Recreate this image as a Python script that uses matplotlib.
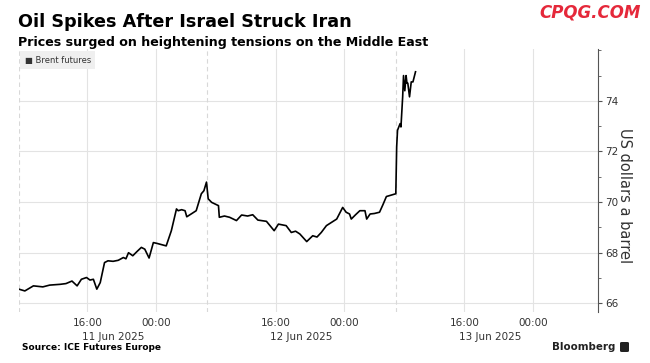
import matplotlib
matplotlib.use("Agg")
import matplotlib.pyplot as plt
from matplotlib.patches import FancyBboxPatch
from matplotlib.ticker import MultipleLocator
from matplotlib.transforms import blended_transform_factory

# x axis = trading hours since 08:00 11 Jun (session gaps 06:00-08:00 removed)
hours = [0.0, 0.7, 1.7, 2.8, 3.6, 4.8, 5.5, 6.2, 6.8, 7.3, 7.9, 8.3, 8.7, 9.1,
         9.5, 10.0, 10.4, 11.0, 11.6, 12.2, 12.5, 12.8, 13.3, 13.8, 14.3, 14.7,
         15.2, 15.7, 16.1, 17.2, 17.8, 18.4, 18.6, 19.0, 19.4, 19.6, 20.2, 20.7,
         21.3, 21.6, 21.9, 22.1, 22.5, 23.3, 23.4, 24.0, 24.6, 25.4, 26.0, 26.7,
         27.3, 27.9, 28.9, 29.8, 30.3, 31.2, 31.8, 32.3, 32.8, 33.6, 34.3, 34.8,
         35.3, 35.9, 36.5, 37.1, 37.8, 38.2, 38.6, 38.8, 39.3, 39.8, 40.4, 40.6,
         41.0, 41.5, 42.1, 42.5, 42.9, 43.3, 44.0, 44.1, 44.2, 44.5, 44.6, 44.8,
         44.9, 45.05, 45.2, 45.3, 45.4, 45.6, 45.8, 46.0, 46.3]
brent = [66.56, 66.49, 66.69, 66.65, 66.72, 66.75, 66.78, 66.88, 66.69, 66.95,
         67.02, 66.92, 66.95, 66.56, 66.82, 67.61, 67.68, 67.66, 67.70, 67.81,
         67.76, 68.00, 67.88, 68.05, 68.21, 68.14, 67.79, 68.40, 68.37, 68.27,
         68.87, 69.73, 69.66, 69.70, 69.66, 69.42, 69.55, 69.66, 70.33, 70.45,
         70.79, 70.13, 69.99, 69.86, 69.40, 69.45, 69.40, 69.27, 69.49, 69.45,
         69.50, 69.29, 69.24, 68.87, 69.13, 69.07, 68.80, 68.85, 68.74, 68.44,
         68.67, 68.62, 68.80, 69.07, 69.20, 69.33, 69.79, 69.60, 69.53, 69.33,
         69.50, 69.66, 69.66, 69.33, 69.53, 69.55, 69.60, 69.90, 70.22, 70.26,
         70.33, 72.18, 72.84, 73.10, 72.97, 74.16, 75.00, 74.40, 75.00, 74.70,
         74.70, 74.16, 74.75, 74.75, 75.15]

tick_hours = [8, 16, 30, 38, 52, 60]
tick_labels = ["16:00", "00:00", "16:00", "00:00", "16:00", "00:00"]
date_hours = [8, 30, 52]
date_labels = ["11 Jun 2025", "12 Jun 2025", "13 Jun 2025"]
session_starts = [0, 22, 44]
y_ticks = [66, 68, 70, 72, 74]

plt.rcParams["font.family"] = ["DejaVu Sans"]

fig = plt.figure(figsize=(6.5, 3.63), dpi=100)
ax = fig.add_axes([0.029, 0.140, 0.891, 0.725])

grid_c = "#e3e3e3"
for y in y_ticks:
    ax.axhline(y, color=grid_c, lw=0.8, zorder=0)
for x in tick_hours:
    ax.axvline(x, color=grid_c, lw=0.8, zorder=0)
for x in session_starts:
    ax.axvline(x, color="#d8d8d8", lw=0.8, ls=(0, (4, 3)), zorder=0)

ax.plot(hours, brent, color="black", lw=1.2, zorder=3)

ax.set_xlim(0, 67.6)
ax.set_ylim(65.65, 76.05)

ax.set_xticks(tick_hours)
ax.set_xticklabels(tick_labels, fontsize=7.5, color="#333333")
ax.tick_params(axis="x", length=0, pad=4)

# date line under the 16:00 labels, starting a bit left of the tick
trans = blended_transform_factory(ax.transData, ax.transAxes)
for x, lab in zip(date_hours, date_labels):
    ax.text(x - 0.65, -0.075, lab, transform=trans, fontsize=7.5,
            color="#333333", ha="left", va="top")

ax.yaxis.tick_right()
ax.set_yticks(y_ticks)
ax.yaxis.set_minor_locator(MultipleLocator(1))
ax.tick_params(axis="y", which="major", length=3, width=0.8, color="#555555",
               labelsize=7.5, labelcolor="#333333", pad=2)
ax.tick_params(axis="y", which="minor", length=2, width=0.6, color="#555555")

for s in ["top", "left", "bottom"]:
    ax.spines[s].set_visible(False)
ax.spines["right"].set_color("#555555")
ax.spines["right"].set_linewidth(0.8)

ax.text(0.01, 0.975, "\u25a0 Brent futures", transform=ax.transAxes,
        fontsize=6, color="#333333", va="top", ha="left", zorder=5,
        bbox=dict(facecolor="#efefef", edgecolor="none", boxstyle="square,pad=0.55"))

fig.text(625 / 650, 1 - 196 / 363, "US dollars a barrel", rotation=270,
         fontsize=10.5, color="#333333", ha="center", va="center")

fig.text(18 / 650, 1 - 27 / 363, "Oil Spikes After Israel Struck Iran",
         fontsize=12.7, fontweight="bold", color="black", va="baseline")
fig.text(18 / 650, 1 - 46 / 363,
         "Prices surged on heightening tensions on the Middle East",
         fontsize=9.1, fontweight="bold", color="black", va="baseline")
fig.text(641 / 650, 1 - 13 / 363, "CPQG.COM", fontsize=12, color="#e5283a",
         fontstyle="italic", fontweight="bold", ha="right", va="center")

fig.text(22 / 650, 1 - 350 / 363, "Source: ICE Futures Europe", fontsize=6.5,
         fontweight="bold", color="black", va="baseline")
fig.text(615 / 650, 1 - 350 / 363, "Bloomberg", fontsize=7.4, fontweight="bold",
         color="#222222", va="baseline", ha="right")
fig.patches.append(FancyBboxPatch((620 / 650, 1 - 352 / 363), 9 / 650, 10 / 363,
                                  boxstyle="round,pad=0,rounding_size=0.003",
                                  transform=fig.transFigure, facecolor="#222222",
                                  edgecolor="none"))

fig.savefig("out.png", dpi=100)
